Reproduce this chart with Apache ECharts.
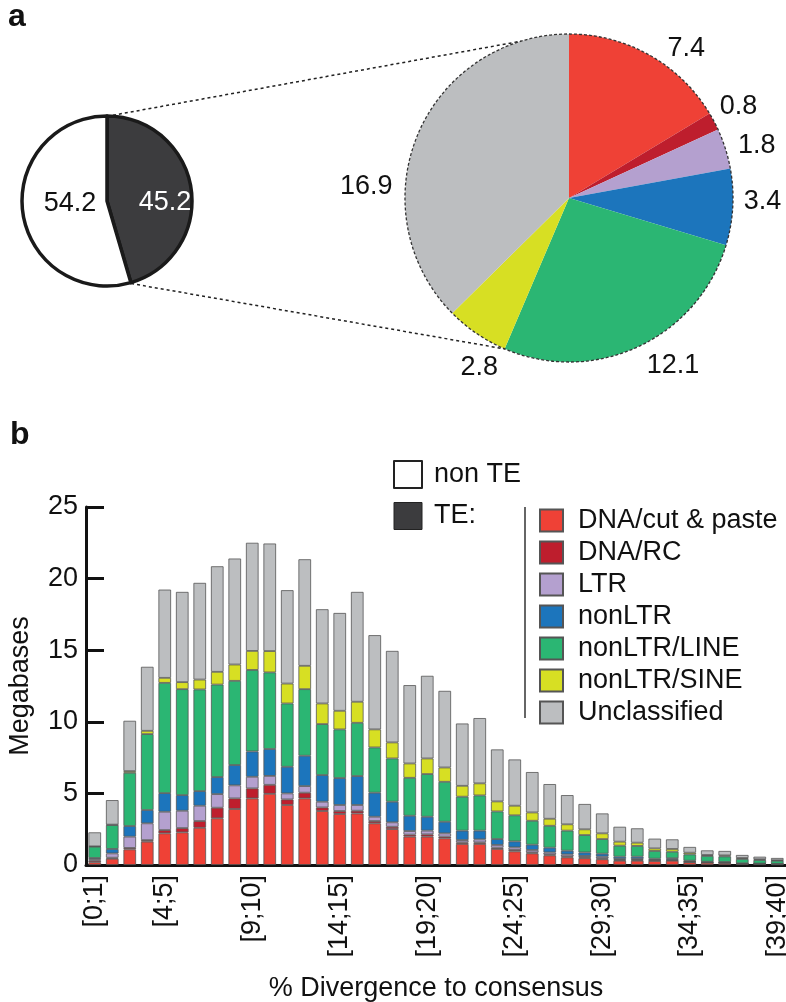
<!DOCTYPE html>
<html><head><meta charset="utf-8">
<script src="https://cdn.jsdelivr.net/npm/echarts@6/dist/echarts.min.js"></script>
<style>html,body{margin:0;padding:0;background:#fff}#c{width:786px;height:1002px}</style>
</head><body><div id="c"></div>
<script>
// ---------- data ----------
const categories = ['[0;1]','[1;2]','[2;3]','[3;4]','[4;5]','[5;6]','[6;7]','[7;8]','[8;9]','[9;10]',
  '[10;11]','[11;12]','[12;13]','[13;14]','[14;15]','[15;16]','[16;17]','[17;18]','[18;19]','[19;20]',
  '[20;21]','[21;22]','[22;23]','[23;24]','[24;25]','[25;26]','[26;27]','[27;28]','[28;29]','[29;30]',
  '[30;31]','[31;32]','[32;33]','[33;34]','[34;35]','[35;36]','[36;37]','[37;38]','[38;39]','[39;40]'];
const dnaCutPaste = [0.19,0.44,1.09,1.63,2.21,2.28,2.60,3.26,3.91,4.65,4.97,4.19,4.65,3.77,3.56,3.60,2.91,2.51,1.98,1.98,
  1.86,1.47,1.47,1.12,0.95,0.81,0.67,0.53,0.47,0.40,0.30,0.30,0.28,0.30,0.19,0.16,0.14,0.08,0.07,0.05];
const dnaRC = [0.11,0.07,0.10,0.11,0.23,0.30,0.47,0.74,0.74,0.70,0.63,0.39,0.40,0.25,0.21,0.19,0.16,0.16,0.14,0.16,
  0.12,0.11,0.11,0.09,0.10,0.07,0.07,0.07,0.06,0.06,0.05,0.05,0.04,0.04,0.03,0.02,0.02,0.01,0.01,0.01];
const ltr = [0.10,0.30,0.79,1.17,1.28,1.21,1.07,0.95,0.91,0.81,0.62,0.42,0.46,0.40,0.42,0.40,0.30,0.31,0.25,0.26,
  0.23,0.16,0.21,0.19,0.18,0.17,0.14,0.14,0.10,0.12,0.07,0.07,0.04,0.04,0.03,0.02,0.02,0.01,0.01,0.01];
const nonLTR = [0.09,0.31,0.74,0.93,1.30,1.09,1.02,1.19,1.42,1.77,1.88,1.86,2.12,1.86,1.88,2.02,1.68,1.44,1.07,0.97,
  0.81,0.66,0.61,0.41,0.42,0.37,0.33,0.26,0.25,0.21,0.16,0.16,0.08,0.09,0.05,0.03,0.03,0.02,0.01,0.01];
const nonLTRLine = [0.79,1.67,3.72,5.30,7.70,7.40,7.10,6.46,5.88,5.69,5.35,4.42,4.65,3.56,3.40,3.72,3.16,3.02,2.65,2.98,
  2.79,2.37,2.46,1.93,1.82,1.67,1.53,1.40,1.21,1.02,0.77,0.75,0.54,0.46,0.44,0.40,0.39,0.30,0.25,0.22];
const nonLTRSine = [0.02,0.03,0.12,0.23,0.35,0.49,0.69,0.89,1.14,1.33,1.49,1.39,1.63,1.44,1.30,1.47,1.26,1.12,1.00,1.09,
  1.00,0.76,0.84,0.70,0.67,0.58,0.49,0.44,0.40,0.40,0.28,0.23,0.18,0.19,0.12,0.07,0.07,0.07,0.05,0.03];
const unclassified = [0.98,1.71,3.51,4.47,6.16,6.30,6.75,7.37,7.40,7.55,7.51,6.52,7.44,6.58,6.83,7.67,6.58,6.39,5.47,5.77,
  5.35,4.35,4.56,3.63,3.23,2.82,2.42,2.04,1.77,1.39,1.04,1.00,0.68,0.67,0.40,0.32,0.31,0.21,0.18,0.16];
const yTicks = [0, 5, 10, 15, 20, 25];

const genomeNames = ['TE', 'non TE'];
const genomeValues = [45.2, 54.2];
const teNames = ['DNA/cut & paste','DNA/RC','LTR','nonLTR','nonLTR/LINE','nonLTR/SINE','Unclassified'];
const teValues = [7.4, 0.8, 1.8, 3.4, 12.1, 2.8, 16.9];

// ---------- styling ----------
const FONT = 'Liberation Sans, Arial, Helvetica, sans-serif';
const INK = '#111';
const teColors = ['#EF4136','#BE1E2D','#B4A0CF','#1C75BC','#2BB673','#D7DF23','#BCBEC0'];
const barSeriesData = [dnaCutPaste, dnaRC, ltr, nonLTR, nonLTRLine, nonLTRSine, unclassified];

const smallC = [107, 201], smallR = 85;
const bigC = [569, 198], bigR = 164;

const chart = echarts.init(document.getElementById('c'), null, {renderer: 'canvas'});

// connector lines: small pie TE boundaries -> big pie outline
const teFrac = genomeValues[0] / (genomeValues[0] + genomeValues[1]);
function pt(c, r, degCW) { const a = degCW * Math.PI / 180; return [c[0] + r * Math.sin(a), c[1] - r * Math.cos(a)]; }
const s1 = pt(smallC, smallR + 1, 4), s2 = pt(smallC, smallR + 1, teFrac * 360);
const b1 = pt(bigC, bigR, 343), b2 = pt(bigC, bigR, 203);

const barSeries = teNames.map((n, i) => ({
  name: n, type: 'bar', stack: 'total', data: barSeriesData[i],
  barCategoryGap: '28%',
  itemStyle: {color: teColors[i], borderColor: '#555', borderWidth: 0.8},
  emphasis: {disabled: true}
}));

const option = {
  animation: false,
  textStyle: {fontFamily: FONT, color: INK},
  title: [
    {text: 'a', left: 3, top: -4, textStyle: {fontSize: 32, fontWeight: 'bold', color: INK, fontFamily: FONT}},
    {text: 'b', left: 5, top: 414, textStyle: {fontSize: 32, fontWeight: 'bold', color: INK, fontFamily: FONT}}
  ],
  legend: [
    {
      data: [
        {name: 'non TE', itemStyle: {color: '#fff', borderColor: '#222', borderWidth: 2}},
        {name: 'TE', itemStyle: {color: '#3C3C3E', borderColor: '#222', borderWidth: 1}}
      ],
      formatter: n => n === 'TE' ? 'TE:' : n,
      icon: 'rect',
      orient: 'vertical', left: 393, top: 460, padding: 0,
      itemWidth: 28, itemHeight: 27, itemGap: 13, selectedMode: false,
      textStyle: {fontSize: 27, color: INK, fontFamily: FONT, padding: [0, 0, 0, 7]}
    },
    {
      data: teNames,
      icon: 'rect',
      orient: 'vertical', left: 539, top: 507, padding: 0,
      itemWidth: 23, itemHeight: 22, itemGap: 5, selectedMode: false,
      textStyle: {fontSize: 27, color: INK, fontFamily: FONT, padding: [0, 0, 0, 10]}
    }
  ],
  grid: {left: 86, right: 0, top: 507, bottom: 137, containLabel: false, outerBoundsMode: 'none'},
  xAxis: {
    type: 'category', data: categories,
    name: '% Divergence to consensus', nameLocation: 'middle', nameGap: 110,
    nameTextStyle: {fontSize: 27, color: INK, fontFamily: FONT},
    axisLine: {lineStyle: {color: INK, width: 3}},
    axisTick: {show: false},
    axisLabel: {rotate: 90, fontSize: 27, color: INK, fontFamily: FONT, margin: 10,
      interval: (i) => i === 0 || (i + 1) % 5 === 0}
  },
  yAxis: {
    type: 'value', min: yTicks[0], max: yTicks[yTicks.length - 1], interval: 5,
    name: 'Megabases', nameLocation: 'middle', nameGap: 52, nameRotate: 90,
    nameTextStyle: {fontSize: 27, color: INK, fontFamily: FONT},
    axisLine: {show: true, lineStyle: {color: INK, width: 3}},
    axisTick: {show: true, inside: true, length: 18, lineStyle: {color: INK, width: 3}},
    axisLabel: {fontSize: 27, color: INK, fontFamily: FONT, margin: 8},
    splitLine: {show: false}
  },
  series: [
    {
      type: 'pie', center: smallC, radius: smallR, startAngle: 90, clockwise: true,
      avoidLabelOverlap: false, silent: true,
      data: genomeNames.map((n, i) => ({
        name: n, value: genomeValues[i],
        itemStyle: {color: i === 0 ? '#3C3C3E' : '#fff', borderColor: '#1a1a1a', borderWidth: 3.5},
        label: {color: i === 0 ? '#fff' : INK}
      })),
      label: {show: true, position: 'inside', fontSize: 27, fontFamily: FONT, formatter: p => p.value.toFixed(1)},
      labelLayout: p => (p.dataIndex === 0 ? {dx: 13, dy: 8} : {dx: 8, dy: -4})
    },
    {
      type: 'pie', center: bigC, radius: bigR, startAngle: 90, clockwise: true,
      avoidLabelOverlap: false, silent: true,
      data: teNames.map((n, i) => ({name: n, value: teValues[i], itemStyle: {color: teColors[i]}})),
      label: {show: true, position: 'outside', fontSize: 27, color: INK, fontFamily: FONT,
        formatter: p => p.value.toFixed(1), distanceToLabelLine: 5},
      labelLine: {show: false, length: 10, length2: 0},
      labelLayout: p => {
        if (p.dataIndex === 6) return {dx: -11, dy: 56};
        if (p.dataIndex === 5) return {dx: 32, dy: 26};
        if (p.dataIndex === 4) return {dx: -1, dy: 10};
        if (p.dataIndex === 1) return {dx: -8, dy: -10};
        if (p.dataIndex === 2) return {dx: -2, dy: 0};
        if (p.dataIndex === 3) return {dx: -4, dy: -6};
        return {dx: 8, dy: 2};
      }
    },
    {
      type: 'pie', center: bigC, radius: bigR, silent: true, label: {show: false}, labelLine: {show: false},
      data: [{value: 1, itemStyle: {color: 'rgba(0,0,0,0)', borderColor: '#333', borderWidth: 1.3, borderType: [3, 2]}}]
    },
    ...barSeries
  ],
  graphic: [
    {type: 'line', shape: {x1: s1[0], y1: s1[1], x2: b1[0], y2: b1[1]}, style: {stroke: '#222', lineWidth: 1.5, lineDash: [3, 3]}},
    {type: 'line', shape: {x1: s2[0], y1: s2[1], x2: b2[0], y2: b2[1]}, style: {stroke: '#222', lineWidth: 1.5, lineDash: [3, 3]}},
    {type: 'line', shape: {x1: 525, y1: 507, x2: 525, y2: 718}, style: {stroke: '#333', lineWidth: 1.5}}
  ]
};
chart.setOption(option);
</script>
</body></html>
